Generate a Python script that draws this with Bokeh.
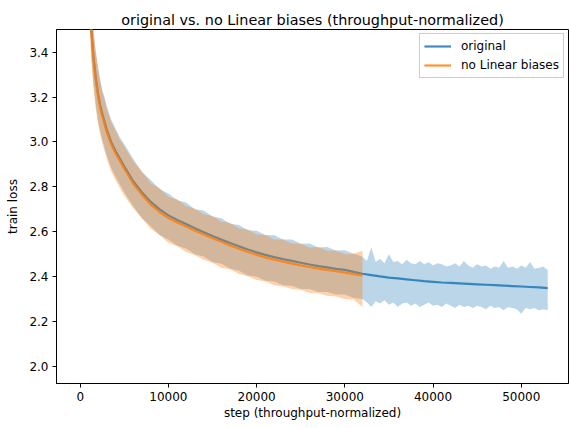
from bokeh.plotting import figure
from bokeh.models import Range1d, FixedTicker, PrintfTickFormatter, Legend, LegendItem, ColumnDataSource
from bokeh.embed import file_html
from bokeh.resources import INLINE

# ---- data ----
# smoothed curves
orig_step = [1000, 1250, 1500, 1750, 2000, 2250, 2500, 2750, 3000, 3500, 4000, 4500, 5000,
             6000, 7000, 8000, 9000, 10000, 11000, 12000, 13000, 14000, 15000, 16000, 17000,
             18000, 19000, 20000, 21000, 22000, 23000, 24000, 25000, 26000, 27000, 28000,
             29000, 30000, 31000, 32000, 33000, 34000, 35000, 36000, 37000, 38000, 39000,
             40000, 41000, 42000, 43000, 44000, 45000, 46000, 47000, 48000, 49000, 50000,
             51000, 52000, 53000]
orig_loss = [3.72, 3.51, 3.38, 3.29, 3.22, 3.165, 3.125, 3.09, 3.055, 3.00, 2.96, 2.925, 2.89,
             2.825, 2.775, 2.733, 2.700, 2.673, 2.652, 2.634, 2.616, 2.598, 2.581, 2.565, 2.55,
             2.535, 2.521, 2.508, 2.497, 2.487, 2.478, 2.47, 2.462, 2.454, 2.447, 2.441,
             2.435, 2.430, 2.421, 2.413, 2.407, 2.401, 2.396, 2.392, 2.388, 2.384, 2.380,
             2.377, 2.374, 2.372, 2.370, 2.368, 2.366, 2.364, 2.362, 2.360, 2.358, 2.356,
             2.354, 2.352, 2.349]

# raw-loss envelope (min / max of the noisy curve)
orig_band_step = [1000, 1250, 1500, 1750, 2000, 2250, 2500, 2750, 3000, 3500, 4000, 4500, 5000,
                  6000, 7000, 8000, 9000, 10000, 11000, 12000, 13000, 14000, 15000, 16000, 17000,
                  18000, 19000, 20000, 21000, 22000, 23000, 24000, 25000, 26000, 27000, 28000,
                  29000, 30000, 31000,
                  32000, 32500, 33000, 33500, 34000, 34500, 35000, 35500, 36000, 36500,
                  37000, 37500, 38000, 38500, 39000, 39500, 40000, 40500, 41000, 41500,
                  42000, 42500, 43000, 43500, 44000, 44500, 45000, 45500, 46000, 46500,
                  47000, 47500, 48000, 48500, 49000, 49500, 50000, 50500, 51000, 51500,
                  52000, 52500, 53000]
orig_hi = [3.85, 3.64, 3.50, 3.41, 3.34, 3.28, 3.23, 3.20, 3.16, 3.10, 3.06, 3.02, 2.99,
           2.925, 2.865, 2.83, 2.79, 2.77, 2.74, 2.73, 2.70, 2.695, 2.668, 2.66, 2.636,
           2.63, 2.607, 2.604, 2.585, 2.584, 2.566, 2.565, 2.547, 2.548, 2.53, 2.532,
           2.516, 2.518, 2.502,
           2.49, 2.47, 2.53, 2.465, 2.48, 2.46, 2.50, 2.465, 2.47, 2.455,
           2.475, 2.46, 2.455, 2.47, 2.455, 2.465, 2.45, 2.46, 2.455, 2.445,
           2.45, 2.46, 2.445, 2.47, 2.45, 2.44, 2.455, 2.445, 2.45, 2.435,
           2.445, 2.44, 2.47, 2.44, 2.445, 2.435, 2.45, 2.44, 2.465, 2.435,
           2.44, 2.445, 2.43]
orig_lo = [3.60, 3.39, 3.26, 3.17, 3.10, 3.05, 3.01, 2.975, 2.94, 2.885, 2.845, 2.81, 2.775,
           2.715, 2.66, 2.625, 2.585, 2.565, 2.538, 2.525, 2.50, 2.49, 2.465, 2.458, 2.436,
           2.426, 2.405, 2.40, 2.382, 2.378, 2.362, 2.36, 2.345, 2.345, 2.332, 2.332,
           2.32, 2.32, 2.305,
           2.30, 2.285, 2.265, 2.29, 2.28, 2.295, 2.275, 2.285, 2.265, 2.28,
           2.285, 2.27, 2.28, 2.265, 2.275, 2.285, 2.27, 2.275, 2.265, 2.28,
           2.27, 2.26, 2.275, 2.265, 2.27, 2.26, 2.27, 2.265, 2.255, 2.27,
           2.26, 2.265, 2.25, 2.265, 2.26, 2.255, 2.235, 2.26, 2.255, 2.26,
           2.25, 2.255, 2.25]

nolb_step = [1000, 1250, 1500, 1750, 2000, 2250, 2500, 2750, 3000, 3500, 4000, 4500, 5000,
             6000, 7000, 8000, 9000, 10000, 11000, 12000, 13000, 14000, 15000, 16000, 17000,
             18000, 19000, 20000, 21000, 22000, 23000, 24000, 25000, 26000, 27000, 28000,
             29000, 30000, 31000, 32000]
nolb_loss = [3.70, 3.50, 3.37, 3.28, 3.21, 3.155, 3.115, 3.08, 3.045, 2.99, 2.95, 2.915, 2.88,
             2.815, 2.765, 2.721, 2.688, 2.661, 2.641, 2.623, 2.605, 2.588, 2.571, 2.555, 2.539,
             2.524, 2.510, 2.497, 2.486, 2.476, 2.467, 2.458, 2.450, 2.443, 2.436, 2.430,
             2.424, 2.418, 2.411, 2.405]
nolb_hi = [3.84, 3.63, 3.49, 3.40, 3.33, 3.27, 3.225, 3.19, 3.15, 3.09, 3.05, 3.01, 2.98,
           2.915, 2.87, 2.815, 2.795, 2.755, 2.745, 2.715, 2.702, 2.678, 2.67, 2.645, 2.64,
           2.615, 2.61, 2.588, 2.585, 2.566, 2.565, 2.548, 2.547, 2.53, 2.532, 2.515,
           2.516, 2.50, 2.502, 2.515]
nolb_lo = [3.58, 3.37, 3.24, 3.15, 3.085, 3.035, 2.995, 2.96, 2.925, 2.87, 2.83, 2.795, 2.76,
           2.705, 2.66, 2.612, 2.585, 2.55, 2.535, 2.51, 2.495, 2.475, 2.462, 2.44, 2.432,
           2.412, 2.402, 2.385, 2.378, 2.362, 2.356, 2.345, 2.34, 2.328, 2.326, 2.315,
           2.312, 2.30, 2.298, 2.265]

x_ticks = [0, 10000, 20000, 30000, 40000, 50000]
y_ticks = [2.0, 2.2, 2.4, 2.6, 2.8, 3.0, 3.2, 3.4]
series_labels = ["original", "no Linear biases"]
title_text = "original vs. no Linear biases (throughput-normalized)"

BLUE = "#1f77b4"
ORANGE = "#ff7f0e"
FONT = "DejaVu Sans"

orig_line_src = ColumnDataSource(dict(x=orig_step, y=orig_loss))
orig_band_src = ColumnDataSource(dict(x=orig_band_step, hi=orig_hi, lo=orig_lo))
nolb_src = ColumnDataSource(dict(x=nolb_step, y=nolb_loss, hi=nolb_hi, lo=nolb_lo))

p = figure(width=569, height=428, output_backend="svg", toolbar_location=None,
           x_range=Range1d(-2690, 55360), y_range=Range1d(1.924, 3.501),
           title=title_text,
           min_border_left=56, min_border_right=1, min_border_top=29, min_border_bottom=45)

p.background_fill_color = "white"
p.border_fill_color = "white"
p.grid.visible = False
p.outline_line_color = "black"
p.outline_line_width = 1
p.outline_line_alpha = 1

p.title.align = "center"
p.title.text_font = FONT
p.title.text_font_size = "14.4px"
p.title.text_font_style = "normal"
p.title.text_color = "black"
p.title.standoff = 4

for ax in (p.xaxis[0], p.yaxis[0]):
    ax.minor_tick_line_color = None
    ax.major_tick_in = 0
    ax.major_tick_out = 4
    ax.major_tick_line_color = "black"
    ax.axis_line_color = "black"
    ax.major_label_text_font = FONT
    ax.major_label_text_font_size = "12px"
    ax.major_label_text_color = "black"
    ax.major_label_standoff = 4
    ax.axis_label_text_font = FONT
    ax.axis_label_text_font_size = "12px"
    ax.axis_label_text_font_style = "normal"
    ax.axis_label_text_color = "black"

p.xaxis.ticker = FixedTicker(ticks=x_ticks)
p.xaxis.formatter = PrintfTickFormatter(format="%d")
p.xaxis.axis_label = "step (throughput-normalized)"
p.xaxis.axis_label_standoff = 2
p.yaxis.ticker = FixedTicker(ticks=y_ticks)
p.yaxis.formatter = PrintfTickFormatter(format="%.1f")
p.yaxis.axis_label = "train loss"
p.yaxis.axis_label_standoff = 6

p.varea(x="x", y1="lo", y2="hi", source=orig_band_src, fill_color=BLUE, fill_alpha=0.3)
r_orig = p.line(x="x", y="y", source=orig_line_src, line_color=BLUE, line_width=2.2, line_alpha=0.85)
p.varea(x="x", y1="lo", y2="hi", source=nolb_src, fill_color=ORANGE, fill_alpha=0.35)
r_nolb = p.line(x="x", y="y", source=nolb_src, line_color=ORANGE, line_width=2.2, line_alpha=0.85)

legend = Legend(items=[LegendItem(label=series_labels[0], renderers=[r_orig]),
                       LegendItem(label=series_labels[1], renderers=[r_nolb])],
                location="top_right")
legend.margin = 4
legend.padding = 4
legend.spacing = 3
legend.glyph_width = 27
legend.glyph_height = 16
legend.label_height = 16
legend.label_standoff = 10
legend.label_text_font = FONT
legend.label_text_font_size = "12px"
legend.label_text_color = "black"
legend.border_line_color = "#cccccc"
legend.border_line_alpha = 1
legend.background_fill_alpha = 0.8
p.add_layout(legend)

open("out.html", "w").write(file_html(p, INLINE))
